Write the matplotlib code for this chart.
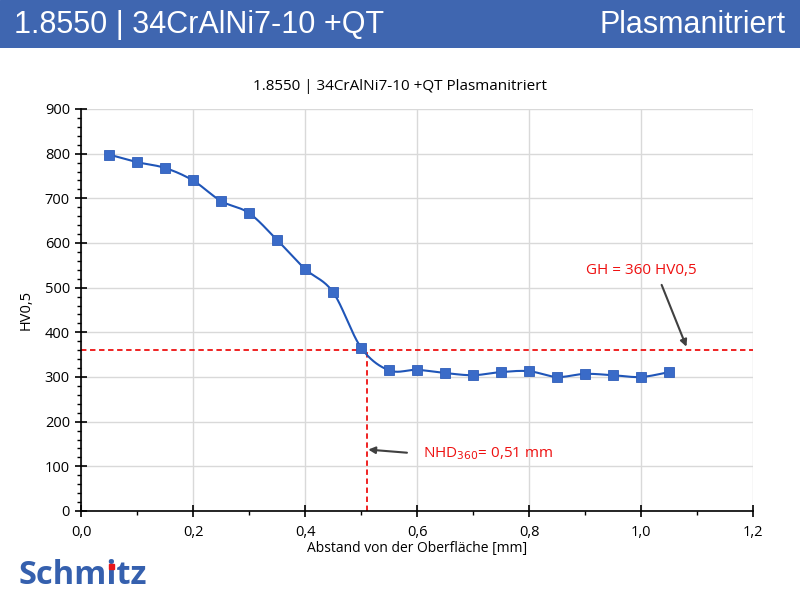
import numpy as np
import matplotlib
matplotlib.use("Agg")
import matplotlib.pyplot as plt
from matplotlib.ticker import MultipleLocator, FuncFormatter

# ---- data ----
depth_mm = [0.05, 0.10, 0.15, 0.20, 0.25, 0.30, 0.35, 0.40, 0.45, 0.50,
            0.55, 0.60, 0.65, 0.70, 0.75, 0.80, 0.85, 0.90, 0.95, 1.00, 1.05]
hardness_hv = [798, 781, 768, 740, 694, 667, 607, 542, 490, 366,
               315, 316, 309, 304, 311, 313, 300, 307, 304, 300, 311]
gh_value = 360
nhd_value = 0.51

header_left = "1.8550 | 34CrAlNi7-10 +QT"
header_right = "Plasmanitriert"
chart_title = "1.8550 | 34CrAlNi7-10 +QT Plasmanitriert"
x_label = "Abstand von der Oberfläche [mm]"
y_label = "HV0,5"
gh_text = "GH = 360 HV0,5"
nhd_text = "NHD$_{360}$= 0,51 mm"

BLUE_HDR = "#3F66B0"
LINE_BLUE = "#1F55B8"
MARK_BLUE = "#3A6BC8"
RED = "#EE1111"
FONT = "Open Sans"


def smooth(xs, ys, n=20):
    # Bezier smoothing (Excel-like) for drawing the connecting line
    xs = np.asarray(xs, float); ys = np.asarray(ys, float)
    P = np.column_stack([xs, ys])
    P = np.vstack([P[0], P, P[-1]])
    out = []
    for i in range(1, len(P) - 2):
        p0, p1, p2, p3 = P[i - 1], P[i], P[i + 1], P[i + 2]
        c1 = p1 + (p2 - p0) / 6.0
        c2 = p2 - (p3 - p1) / 6.0
        t = np.linspace(0, 1, n, endpoint=False)[:, None]
        b = ((1 - t) ** 3) * p1 + 3 * ((1 - t) ** 2) * t * c1 + 3 * (1 - t) * t ** 2 * c2 + t ** 3 * p2
        out.append(b)
    out.append(P[-2][None, :])
    out = np.vstack(out)
    return out[:, 0], out[:, 1]


fig = plt.figure(figsize=(8, 6), dpi=100)
fig.patch.set_facecolor("white")

# header band
hdr = fig.add_axes([0, 1 - 48 / 600, 1, 48 / 600])
hdr.set_axis_off()
hdr.add_patch(plt.Rectangle((0, 0), 1, 1, color=BLUE_HDR, transform=hdr.transAxes))
fig.text(14 / 800, 1 - 25 / 600, header_left, color="white", fontsize=22,
         family="Liberation Sans", va="center", ha="left")
fig.text(786 / 800, 1 - 25 / 600, header_right, color="white", fontsize=22,
         family="Liberation Sans", va="center", ha="right")

ax = fig.add_axes([81 / 800, 1 - 511 / 600, 672 / 800, 402 / 600])
xs, ys = smooth(depth_mm, hardness_hv)
ax.plot(xs, ys, color=LINE_BLUE, lw=1.5, zorder=3)
ax.plot(depth_mm, hardness_hv, ls="none", marker="s", ms=6.5,
        mfc=MARK_BLUE, mec="#2F5DB8", mew=0.6, zorder=4)

ax.axhline(gh_value, color=RED, ls=(0, (3, 2)), lw=1.3, zorder=2)
ax.plot([nhd_value, nhd_value], [0, gh_value], color=RED, ls=(0, (3, 2)), lw=1.3, zorder=2)

ax.set_xlim(0, 1.2)
ax.set_ylim(0, 900)
ax.xaxis.set_major_locator(MultipleLocator(0.2))
ax.xaxis.set_minor_locator(MultipleLocator(0.1))
ax.yaxis.set_major_locator(MultipleLocator(100))
ax.yaxis.set_minor_locator(MultipleLocator(20))
ax.xaxis.set_major_formatter(FuncFormatter(lambda v, p: f"{v:.1f}".replace(".", ",")))
ax.grid(True, which="major", color="#D9D9D9", lw=1)
ax.set_axisbelow(True)
for s in ["top", "right"]:
    ax.spines[s].set_visible(False)
for s in ["left", "bottom"]:
    ax.spines[s].set_color("black")
    ax.spines[s].set_linewidth(1.2)
ax.tick_params(which="major", direction="inout", length=8, width=1.2, labelsize=10.5, colors="black")
ax.tick_params(which="minor", direction="out", length=3, width=1.0)
for lab in ax.get_xticklabels() + ax.get_yticklabels():
    lab.set_family(FONT)
ax.tick_params(axis="x", pad=6)
ax.tick_params(axis="y", pad=4)

ax.set_xlabel(x_label, family=FONT, fontsize=10, labelpad=1)
ax.set_ylabel(y_label, family=FONT, fontsize=10.5, labelpad=8)
fig.text(400 / 800, 1 - 86 / 600, chart_title, family=FONT, fontsize=11, ha="center", va="center")

# annotations
ax.annotate("", xy=(1.083, gh_value + 2), xytext=(1.035, 512),
            arrowprops=dict(arrowstyle="-|>", color="#404040", lw=1.5, mutation_scale=10))
ax.text(1.0, 538, gh_text, color=RED, family=FONT, fontsize=11, ha="center", va="center")

ax.annotate("", xy=(0.508, 138), xytext=(0.587, 130),
            arrowprops=dict(arrowstyle="-|>", color="#404040", lw=1.5, mutation_scale=10))
ax.text(0.61, 128, nhd_text, color=RED, family=FONT, fontsize=11, ha="left", va="center")

# logo
fig.text(19 / 800, 1 - 575 / 600, "Schmitz", color="#3560AE", family="Open Sans",
         fontweight="bold", fontsize=23.5, ha="left", va="center")
fig.patches.append(plt.Rectangle((108.5 / 800, 1 - 569 / 600), 5.5 / 800, 5.5 / 600,
                                 color="#E8161B", transform=fig.transFigure, figure=fig, zorder=5))

fig.savefig("out.png", dpi=100)
